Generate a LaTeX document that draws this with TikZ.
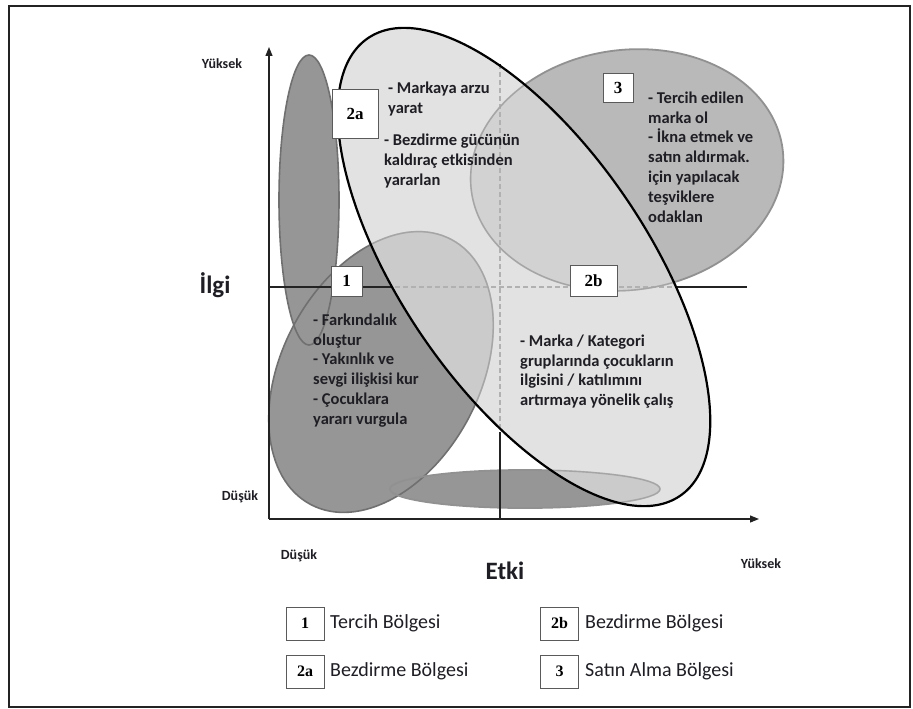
\documentclass[tikz,border=0pt]{standalone}
\usepackage{fontspec}
\setmainfont{Carlito}
\newfontfamily\tagfont{Liberation Serif}
\usetikzlibrary{arrows.meta}

\definecolor{inkc}{RGB}{30,30,36}
\definecolor{axisc}{RGB}{35,35,35}
\definecolor{darkfill}{RGB}{150,150,150}
\definecolor{darkline}{RGB}{112,112,112}
\definecolor{midfill}{RGB}{185,185,185}
\definecolor{midline}{RGB}{145,145,145}
\definecolor{lightfill}{RGB}{218,218,218}
\definecolor{innerline}{RGB}{165,165,165}
\definecolor{tagline}{RGB}{90,90,90}

\tikzset{
  darkblob/.style={fill=darkfill},
  midblob/.style={fill=midfill},
  darkrim/.style={draw=darkline, line width=1.6pt},
  midrim/.style={draw=midline, line width=1.8pt},
  innerrim/.style={draw=innerline, line width=1.4pt},
  axisline/.style={draw=axisc, line width=1.2pt},
  quadline/.style={draw=axisc, line width=1.1pt},
  quaddash/.style={draw=axisc, line width=1.1pt, dash pattern=on 5pt off 3pt},
  note/.style={font=\fontsize{16.5}{19.8}\selectfont\bfseries, text=inkc,
               align=left, anchor=north west, inner sep=0pt},
  tag/.style={draw=tagline, fill=white, line width=0.8pt, inner sep=0pt,
              font=\tagfont\bfseries\fontsize{17}{17}\selectfont},
  axislbl/.style={font=\fontsize{14}{14}\selectfont\bfseries, text=inkc, inner sep=0pt},
  bigaxis/.style={font=\fontsize{25}{25}\selectfont\bfseries, text=inkc, inner sep=0pt},
  legtag/.style={draw=tagline, fill=white, line width=0.8pt, inner sep=0pt,
                 minimum width=38pt, minimum height=33pt,
                 font=\tagfont\bfseries\fontsize{16}{16}\selectfont},
  legtext/.style={font=\fontsize{20}{20}\selectfont, text=inkc, anchor=west, inner sep=0pt},
}

\begin{document}
\begin{tikzpicture}[x=1pt,y=-1pt]
\useasboundingbox (0,0) rectangle (913,709);
\fill[white] (0,0) rectangle (913,709);

% outer frame
\draw[axisc, line width=2.6pt] (9,6) rectangle (910,707);

% filled regions under the large oval
\path[darkblob] (309,200) ellipse [x radius=30, y radius=145];
\path[darkblob, shift={(381,372)}, rotate=62] (0,0) ellipse [x radius=150, y radius=99];
\path[darkblob] (525,489) ellipse [x radius=135, y radius=19];
\path[midblob, shift={(627,170)}, rotate=8] (0,0) ellipse [x radius=157, y radius=120];

% their outlines
\path[darkrim] (309,200) ellipse [x radius=30, y radius=145];
\path[darkrim, shift={(381,372)}, rotate=62] (0,0) ellipse [x radius=150, y radius=99];
\path[midrim] (525,489) ellipse [x radius=135, y radius=19];
\path[midrim, shift={(627,170)}, rotate=8] (0,0) ellipse [x radius=157, y radius=120];

% axes
\coordinate (O) at (269,519);
\coordinate (ytop) at (269,47);
\coordinate (xend) at (759,519);
\draw[axisline, -{Triangle[length=9pt,width=7pt]}] (O) -- (ytop);
\draw[axisline, -{Triangle[length=9pt,width=7pt]}] (O) -- (xend);

% quadrant lines
\coordinate (hL) at (269,287);
\coordinate (hA) at (387,287);
\coordinate (hB) at (680,287);
\coordinate (hR) at (747,287);
\coordinate (vB) at (500,519);
\coordinate (vA) at (500,437);
\coordinate (vT) at (500,62);
\draw[quadline] (hL) -- (hA);
\draw[quaddash] (hA) -- (hB);
\draw[quadline] (hB) -- (hR);
\draw[quadline] (vB) -- (vA);
\draw[quaddash] (vA) -- (vT);

% large oval, translucent
\path[fill=lightfill, fill opacity=0.78, shift={(524,267)}, rotate=-55.7]
  (0,0) ellipse [x radius=277, y radius=123];

% outlines seen through the oval
\begin{scope}
  \clip[shift={(524,267)}, rotate=-55.7] (0,0) ellipse [x radius=277, y radius=123];
  \path[innerrim, shift={(381,372)}, rotate=62] (0,0) ellipse [x radius=150, y radius=99];
  \path[innerrim] (525,489) ellipse [x radius=135, y radius=19];
  \path[innerrim, shift={(627,170)}, rotate=8] (0,0) ellipse [x radius=157, y radius=120];
\end{scope}

\draw[black, line width=2.2pt, shift={(524,267)}, rotate=-55.7]
  (0,0) ellipse [x radius=277, y radius=123];

% region tags
\node[tag, minimum width=46pt, minimum height=49pt] (t2a) at (355,113.5) {2a};
\node[tag, minimum width=31pt, minimum height=30pt] (t1) at (346.5,281) {1};
\node[tag, minimum width=47pt, minimum height=31pt] (t2b) at (593.5,281) {2b};
\node[tag, minimum width=30pt, minimum height=29pt] (t3) at (618,87.5) {3};

% region notes
\node[note] (n2a) at (388,82) {- Markaya arzu\\yarat};
\node[note] (n2a2) at (384,134) {- Bezdirme gücünün\\kaldıraç etkisinden\\yararlan};
\node[note] (n3) at (648,91.5) {- Tercih edilen\\marka ol\\- İkna etmek ve\\satın aldırmak.\\için yapılacak\\teşviklere\\odaklan};
\node[note] (n1) at (313,313.5) {- Farkındalık\\oluştur\\- Yakınlık ve\\sevgi ilişkisi kur\\- Çocuklara\\yararı vurgula};
\node[note] (n2b) at (520,334.5) {- Marka / Kategori\\gruplarında çocukların\\ilgisini / katılımını\\artırmaya yönelik çalış};

% axis labels
\node[axislbl] (yhigh) at (222,64) {Yüksek};
\node[bigaxis] (ilgi) at (215,285) {İlgi};
\node[axislbl] (ylow) at (240,497) {Düşük};
\node[axislbl] (xlow) at (299,556) {Düşük};
\node[bigaxis] (etki) at (505,571) {Etki};
\node[axislbl] (xhigh) at (761,564) {Yüksek};

% legend
\node[legtag] (l1) at (305,623.5) {1};
\node[legtext] (l1t) at (330,623.5) {Tercih Bölgesi};
\node[legtag] (l2a) at (305,671.5) {2a};
\node[legtext] (l2at) at (330,671.5) {Bezdirme Bölgesi};
\node[legtag] (l2b) at (559.5,623.5) {2b};
\node[legtext] (l2bt) at (585,623.5) {Bezdirme Bölgesi};
\node[legtag] (l3) at (559.5,671.5) {3};
\node[legtext] (l3t) at (585,671.5) {Satın Alma Bölgesi};
\end{tikzpicture}
\end{document}
